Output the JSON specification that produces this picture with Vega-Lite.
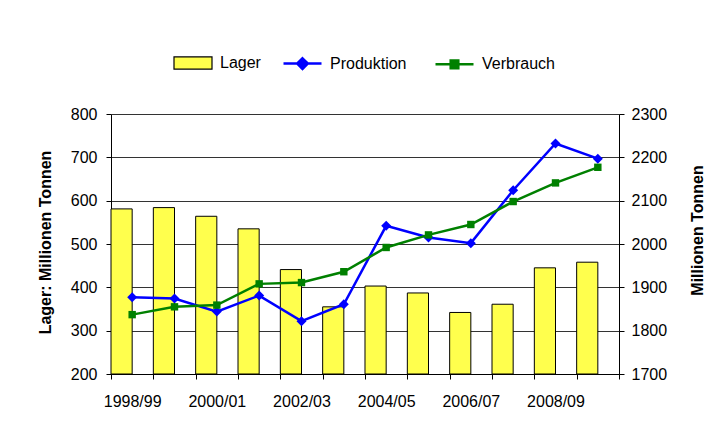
{
  "$schema": "https://vega.github.io/schema/vega-lite/v6.json",
  "autosize": {"type": "none"},
  "width": 508,
  "height": 260,
  "padding": {"left": 111, "top": 114, "right": 101, "bottom": 55},
  "background": "white",
  "config": {
    "view": {"stroke": null},
    "font": "Liberation Sans",
    "axis": {
      "labelFont": "Liberation Sans", "labelFontSize": 16, "labelColor": "#000",
      "titleFont": "Liberation Sans", "titleFontSize": 16, "titleFontWeight": "bold", "titleColor": "#000",
      "domainColor": "#000", "tickColor": "#000", "tickSize": 5, "domainWidth": 1, "tickWidth": 1
    },
    "legend": {
      "orient": "none", "direction": "horizontal", "title": null,
      "symbolSize": 1444, "labelFontSize": 16, "labelFont": "Liberation Sans", "labelColor": "#000",
      "labelOffset": 7
    }
  },
  "data": {
    "values": [
      {"jahr": "1998/99", "Lager": 581, "Produktion": 1877, "Verbrauch": 1837},
      {"jahr": "1999/00", "Lager": 584, "Produktion": 1874, "Verbrauch": 1855},
      {"jahr": "2000/01", "Lager": 564, "Produktion": 1844, "Verbrauch": 1859},
      {"jahr": "2001/02", "Lager": 535, "Produktion": 1881, "Verbrauch": 1908},
      {"jahr": "2002/03", "Lager": 441, "Produktion": 1822, "Verbrauch": 1911},
      {"jahr": "2003/04", "Lager": 355, "Produktion": 1861, "Verbrauch": 1936},
      {"jahr": "2004/05", "Lager": 403, "Produktion": 2042, "Verbrauch": 1992},
      {"jahr": "2005/06", "Lager": 387, "Produktion": 2015, "Verbrauch": 2021},
      {"jahr": "2006/07", "Lager": 342, "Produktion": 2002, "Verbrauch": 2045},
      {"jahr": "2007/08", "Lager": 361, "Produktion": 2124, "Verbrauch": 2098},
      {"jahr": "2008/09", "Lager": 445, "Produktion": 2232, "Verbrauch": 2141},
      {"jahr": "2009/10", "Lager": 458, "Produktion": 2197, "Verbrauch": 2177}
    ]
  },
  "encoding": {
    "x": {
      "field": "jahr", "type": "nominal", "sort": null,
      "scale": {"paddingInner": 0, "paddingOuter": 0},
      "axis": {
        "title": null, "labelAngle": 0, "tickBand": "extent", "labelPadding": 14,
        "labelOverlap": false, "grid": false, "labelBaseline": "top",
        "labelExpr": "indexof(['1998/99','2000/01','2002/03','2004/05','2006/07','2008/09'], datum.value) >= 0 ? datum.label : ''"
      }
    }
  },
  "layer": [
    {
      "mark": {"type": "bar", "stroke": "#000", "strokeWidth": 1},
      "encoding": {
        "xOffset": {"datum": "Lager", "scale": {"domain": ["Lager", "leer"], "paddingInner": 0, "paddingOuter": 0}},
        "y": {
          "field": "Lager", "type": "quantitative",
          "scale": {"domain": [200, 800], "zero": false},
          "axis": {
            "orient": "left", "title": "Lager: Millionen Tonnen", "values": [200, 300, 400, 500, 600, 700, 800],
            "grid": true, "gridColor": "#333", "gridWidth": 1, "labelPadding": 9,
            "titleAngle": -90, "titleX": -66, "titleY": 128, "titleAlign": "center", "titleBaseline": "middle"
          }
        },
        "y2": {"datum": 200},
        "fill": {
          "datum": "Lager",
          "scale": {"domain": ["Lager"], "range": ["#FFFF4D"]},
          "legend": {
            "legendX": 62, "legendY": -71,
            "symbolStrokeColor": "#000000", "symbolStrokeWidth": 1.2,
            "encode": {
              "symbols": {
                "update": {
                  "shape": {"value": "M-1,-0.32H1V0.32H-1Z"},
                  "stroke": {"value": "#000000"},
                  "strokeWidth": {"value": 1.2}
                }
              }
            }
          }
        }
      }
    },
    {
      "layer": [
        {
          "mark": {"type": "line", "strokeWidth": 2.5, "point": {"shape": "diamond", "filled": true, "size": 100, "opacity": 1}},
          "encoding": {
            "y": {
              "field": "Produktion", "type": "quantitative",
              "scale": {"domain": [1700, 2300], "zero": false},
              "axis": {
                "orient": "right", "title": "Millionen Tonnen", "values": [1700, 1800, 1900, 2000, 2100, 2200, 2300],
                "format": "d", "grid": false, "labelPadding": 7,
                "titleAngle": -90, "titleX": 78, "titleY": 116, "titleAlign": "center", "titleBaseline": "middle"
              }
            },
            "color": {
              "datum": "Produktion",
              "scale": {"domain": ["Produktion", "Verbrauch"], "range": ["#0000FF", "#008000"]},
              "legend": {
                "legendX": 171, "legendY": -71, "columnPadding": 23, "symbolStrokeWidth": 2.5,
                "encode": {
                  "symbols": {
                    "update": {
                      "shape": {"signal": "datum.value == 'Produktion' ? 'M-1,0H1M0,-0.28L0.28,0L0,0.28L-0.28,0Z' : 'M-1,0H1M-0.2,-0.2H0.2V0.2H-0.2Z'"},
                      "strokeWidth": {"value": 2.5},
                      "opacity": {"value": 1}
                    }
                  }
                }
              }
            }
          }
        },
        {
          "mark": {"type": "line", "strokeWidth": 2.5, "point": {"shape": "square", "filled": true, "size": 55, "opacity": 1}},
          "encoding": {
            "y": {"field": "Verbrauch", "type": "quantitative", "title": "Millionen Tonnen"},
            "color": {
              "datum": "Verbrauch",
              "legend": {
                "legendX": 171, "legendY": -71, "columnPadding": 23, "symbolStrokeWidth": 2.5,
                "encode": {
                  "symbols": {
                    "update": {
                      "shape": {"signal": "datum.value == 'Produktion' ? 'M-1,0H1M0,-0.28L0.28,0L0,0.28L-0.28,0Z' : 'M-1,0H1M-0.2,-0.2H0.2V0.2H-0.2Z'"},
                      "strokeWidth": {"value": 2.5},
                      "opacity": {"value": 1}
                    }
                  }
                }
              }
            }
          }
        }
      ]
    }
  ],
  "resolve": {"scale": {"y": "independent"}}
}
